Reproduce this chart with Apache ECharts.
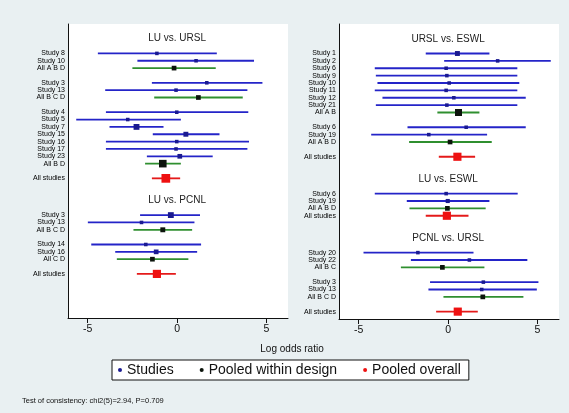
<!DOCTYPE html>
<html><head><meta charset="utf-8">
<script src="https://cdn.jsdelivr.net/npm/echarts@6/dist/echarts.min.js"></script>
<style>html,body{margin:0;padding:0;background:#e9f0f2;} #c{width:569px;height:413px;}</style>
</head><body><div id="c"></div>
<script>
// ---- Left panel (row order from top; T = comparison title, S = study, P = pooled within design, O = pooled overall)
const leftLabels = ['LU vs. URSL','','Study 8','Study 10','All A B D','','Study 3','Study 13','All B C D','',
  'Study 4','Study 5','Study 7','Study 15','Study 16','Study 17','Study 23','All B D','','All studies','','',
  'LU vs. PCNL','','Study 3','Study 13','All B C D','','Study 14','Study 16','All C D','','All studies'];
const leftKind = ['T','','S','S','P','','S','S','P','',
  'S','S','S','S','S','S','S','P','','O','','',
  'T','','S','S','P','','S','S','P','','O'];
const leftEst = [null,null,-1.13,1.06,-0.17,null,1.66,-0.06,1.19,null,
  -0.02,-2.76,-2.27,0.49,-0.02,-0.06,0.15,-0.80,null,-0.63,null,null,
  null,null,-0.35,-1.99,-0.80,null,-1.75,-1.17,-1.38,null,-1.13];
const leftLo = [null,null,-4.43,-2.22,-2.50,null,-1.41,-4.02,-1.28,null,
  -3.98,-5.64,-3.78,-1.36,-3.98,-3.98,-1.69,-1.79,null,-1.41,null,null,
  null,null,-2.07,-4.99,-2.44,null,-4.80,-3.46,-3.37,null,-2.25];
const leftHi = [null,null,2.22,4.30,2.16,null,4.77,3.93,3.67,null,
  3.98,0.21,-0.76,2.37,4.02,3.93,1.99,0.21,null,0.17,null,null,
  null,null,1.28,0.97,0.84,null,1.34,1.12,0.63,null,-0.07];
const leftWeight = [null,null,1,1,2,null,1,1,2,null,
  1,1,3,2.2,1,1,2,4.5,null,5.5,null,null,
  null,null,3,1,2.2,null,1,2,2,null,5];

// ---- Right panel
const rightLabels = ['URSL vs. ESWL','','Study 1','Study 2','Study 6','Study 9','Study 10','Study 11','Study 12','Study 21',
  'All A B','','Study 6','Study 19','All A B D','','All studies','','',
  'LU vs. ESWL','','Study 6','Study 19','All A B D','All studies','','',
  'PCNL vs. URSL','','Study 20','Study 22','All B C','','Study 3','Study 13','All B C D','','All studies'];
const rightKind = ['T','','S','S','S','S','S','S','S','S',
  'P','','S','S','P','','O','','',
  'T','','S','S','P','O','','',
  'T','','S','S','P','','S','S','P','','O'];
const rightEst = [null,null,0.52,2.77,-0.11,-0.07,0.06,-0.11,0.32,-0.07,
  0.58,null,1.01,-1.08,0.11,null,0.52,null,null,
  null,null,-0.11,-0.02,-0.04,-0.07,null,null,
  null,null,-1.69,1.19,-0.32,null,1.97,1.88,1.94,null,0.54];
const rightLo = [null,null,-1.25,-0.22,-4.10,-4.04,-3.95,-4.10,-3.67,-4.04,
  -0.60,null,-2.27,-4.30,-2.18,null,-0.52,null,null,
  null,null,-4.10,-2.31,-2.16,-1.25,null,null,
  null,null,-4.73,-2.08,-2.64,null,-1.01,-1.10,-0.26,null,-0.67];
const rightHi = [null,null,2.31,5.74,3.87,3.87,3.98,3.87,4.34,3.87,
  1.75,null,4.34,2.18,2.44,null,1.51,null,null,
  null,null,3.89,2.31,2.10,1.14,null,null,
  null,null,1.42,4.43,2.03,null,5.05,4.96,4.21,null,1.66];
const rightWeight = [null,null,2.2,1,1,1,1,1,1,1,
  4,null,1,1,2,null,5,null,null,
  null,null,1,1.5,2,5,null,null,
  null,null,1,1,2,null,1,1,2,null,5];

const xTicks = [-5, 0, 5];
const axisTitle = 'Log odds ratio';
const legendNames = ['Studies', 'Pooled within design', 'Pooled overall'];
const footnote = 'Test of consistency: chi2(5)=2.94, P=0.709';

const FONT = 'Liberation Sans, Arial, sans-serif';
const PAD = 2;      // empty slots above first row
const SLOTS = 41;   // total category slots
const kindStyle = {
  S: {line: '#2424c8', mark: '#1a1a90', name: legendNames[0]},
  P: {line: '#2f8f2f', mark: '#0c140c', name: legendNames[1]},
  O: {line: '#e41a1a', mark: '#ee1010', name: legendNames[2]}
};

const chart = echarts.init(document.getElementById('c'));
const grids = [
  {left: 68, top: 24, width: 220, height: 294, show: true, backgroundColor: '#ffffff', borderWidth: 0},
  {left: 339, top: 24, width: 220, height: 295, show: true, backgroundColor: '#ffffff', borderWidth: 0}
];
const xAxes = [], yAxes = [], series = [];

function addPanel(gi, labels, kind, est, lo, hi, weight) {
  const yData = ['', ''].concat(labels.map((l, i) => kind[i] === 'T' ? '' : l));
  while (yData.length < SLOTS) yData.push('');
  xAxes.push({
    gridIndex: gi, type: 'value', min: -6.1, max: 6.2,
    axisLine: {show: true, onZero: false, lineStyle: {color: '#111', width: 1}},
    axisTick: {show: true, length: 5, customValues: xTicks, lineStyle: {color: '#111'}},
    axisLabel: {customValues: xTicks, fontSize: 10.5, color: '#111', margin: 6, fontFamily: FONT},
    splitLine: {show: false}
  });
  yAxes.push({
    gridIndex: gi, type: 'category', data: yData, inverse: true, boundaryGap: false,
    axisLine: {show: true, onZero: false, lineStyle: {color: '#111', width: 1}},
    axisTick: {show: false},
    axisLabel: {interval: 0, fontSize: 7, margin: 3, color: '#000', fontFamily: FONT},
    splitLine: {show: false}
  });
  ['S', 'P', 'O'].forEach(k => {
    const ci = [], pts = [];
    kind.forEach((kk, i) => {
      if (kk !== k || est[i] == null) return;
      ci.push([lo[i], i + PAD, hi[i]]);
      pts.push([est[i], i + PAD, weight[i]]);
    });
    series.push({
      type: 'custom', xAxisIndex: gi, yAxisIndex: gi, silent: true, z: 2,
      data: ci,
      renderItem: (p, api) => {
        const a = api.coord([api.value(0), api.value(1)]);
        const b = api.coord([api.value(2), api.value(1)]);
        return {type: 'line', shape: {x1: a[0], y1: a[1], x2: b[0], y2: b[1]},
          style: {stroke: kindStyle[k].line, lineWidth: 1.8}};
      }
    });
    series.push({
      type: 'scatter', name: kindStyle[k].name, xAxisIndex: gi, yAxisIndex: gi, z: 3,
      symbol: 'rect', symbolSize: v => 2.4 + 1.15 * v[2],
      itemStyle: {color: kindStyle[k].mark, opacity: 1},
      data: pts
    });
  });
  const titles = [];
  kind.forEach((kk, i) => { if (kk === 'T') titles.push([0, i + PAD, labels[i]]); });
  series.push({
    type: 'custom', xAxisIndex: gi, yAxisIndex: gi, silent: true, z: 4,
    data: titles,
    renderItem: (p, api) => {
      const c = api.coord([api.value(0), api.value(1)]);
      return {type: 'text', x: c[0], y: c[1],
        style: {text: titles[p.dataIndex][2], fontSize: 10, fontFamily: FONT, fill: '#222',
          align: 'center', verticalAlign: 'middle'}};
    }
  });
}

addPanel(0, leftLabels, leftKind, leftEst, leftLo, leftHi, leftWeight);
addPanel(1, rightLabels, rightKind, rightEst, rightLo, rightHi, rightWeight);

chart.setOption({
  animation: false,
  backgroundColor: '#e9f0f2',
  grid: grids, xAxis: xAxes, yAxis: yAxes, series: series,
  legend: {
    data: legendNames, left: 112, top: 360, orient: 'horizontal',
    icon: 'circle', itemWidth: 4, itemHeight: 4, itemGap: 26,
    padding: [3, 8, 3, 6], borderColor: '#111', borderWidth: 1, backgroundColor: '#ffffff',
    textStyle: {fontSize: 14, color: '#111', fontFamily: FONT}
  },
  graphic: [
    {type: 'text', x: 292, y: 349, style: {text: axisTitle, fontSize: 10, fontFamily: FONT, fill: '#111', align: 'center', verticalAlign: 'middle'}},
    {type: 'text', x: 22, y: 401, style: {text: footnote, fontSize: 7.5, fontFamily: FONT, fill: '#111', align: 'left', verticalAlign: 'middle'}}
  ]
});
</script></body></html>
